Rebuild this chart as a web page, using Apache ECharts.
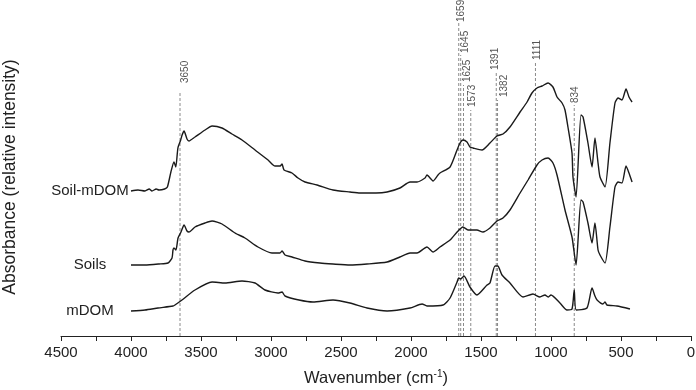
<!DOCTYPE html>
<html>
<head>
<meta charset="utf-8">
<script src="https://cdn.jsdelivr.net/npm/echarts@6/dist/echarts.min.js"></script>
<style>
  html, body { margin: 0; padding: 0; background: #fff; }
  #chart { width: 696px; height: 390px; }
</style>
</head>
<body>
<div id="chart"></div>
<script>
// spectra: [wavenumber, absorbance offset (a.u.)]
const soilMdom = [
  [4000, 1.45], [3950, 1.46], [3900, 1.45], [3870, 1.47], [3850, 1.45], [3820, 1.47], [3800, 1.46],
  [3760, 1.47], [3740, 1.49], [3715, 1.64], [3693, 1.74], [3680, 1.69], [3665, 1.88], [3645, 1.96],
  [3635, 2.01], [3621, 2.05], [3600, 1.97], [3586, 1.95], [3543, 1.99], [3471, 2.06], [3421, 2.10],
  [3350, 2.08], [3279, 2.02], [3207, 1.96], [3114, 1.86], [3021, 1.76], [2971, 1.70], [2935, 1.70],
  [2921, 1.72], [2907, 1.66], [2850, 1.63], [2807, 1.58], [2757, 1.54], [2671, 1.51], [2557, 1.46],
  [2436, 1.44], [2364, 1.43], [2250, 1.43], [2171, 1.44], [2079, 1.48], [2007, 1.54], [1957, 1.54],
  [1900, 1.58], [1886, 1.61], [1857, 1.57], [1843, 1.55], [1807, 1.61], [1793, 1.63], [1721, 1.69],
  [1671, 1.86], [1650, 1.93], [1629, 1.96], [1600, 1.94], [1579, 1.89], [1557, 1.88], [1493, 1.86],
  [1436, 1.93], [1386, 2.00], [1343, 2.02], [1293, 2.09], [1221, 2.24], [1171, 2.34], [1136, 2.43],
  [1100, 2.48], [1064, 2.50], [1021, 2.53], [986, 2.49], [957, 2.39], [921, 2.33], [900, 2.26],
  [879, 2.09], [850, 1.83], [843, 1.59], [821, 1.39], [786, 2.21], [771, 2.19], [736, 1.93],
  [707, 1.69], [686, 1.98], [664, 1.73], [650, 1.59], [614, 1.49], [579, 1.93], [543, 2.33],
  [521, 2.38], [493, 2.36], [464, 2.47], [443, 2.39], [421, 2.34]
];
const soils = [
  [4000, 0.71], [3900, 0.71], [3800, 0.72], [3736, 0.73], [3707, 0.78], [3700, 0.86], [3693, 0.88],
  [3679, 0.86], [3664, 0.98], [3643, 1.04], [3621, 1.11], [3600, 1.05], [3586, 1.04], [3543, 1.09],
  [3471, 1.13], [3421, 1.15], [3350, 1.12], [3257, 1.03], [3186, 0.98], [3093, 0.89], [2993, 0.83],
  [2936, 0.83], [2921, 0.85], [2900, 0.81], [2850, 0.79], [2757, 0.75], [2650, 0.73], [2557, 0.72],
  [2436, 0.71], [2314, 0.72], [2171, 0.74], [2079, 0.79], [2007, 0.83], [1957, 0.83], [1886, 0.89],
  [1843, 0.84], [1793, 0.89], [1721, 0.96], [1671, 1.04], [1629, 1.09], [1593, 1.06], [1529, 1.06],
  [1486, 1.04], [1436, 1.08], [1386, 1.15], [1343, 1.18], [1293, 1.26], [1221, 1.43], [1164, 1.56],
  [1100, 1.71], [1064, 1.76], [1021, 1.78], [986, 1.73], [957, 1.61], [900, 1.26], [850, 0.99],
  [821, 0.71], [786, 1.36], [771, 1.34], [736, 1.13], [707, 0.93], [686, 1.13], [664, 0.86],
  [650, 0.81], [614, 0.73], [579, 1.09], [543, 1.49], [521, 1.54], [493, 1.53], [464, 1.70],
  [443, 1.63], [421, 1.54]
];
const mDOM = [
  [4000, 0.25], [3900, 0.26], [3807, 0.28], [3700, 0.30], [3686, 0.31], [3636, 0.36], [3543, 0.46],
  [3421, 0.54], [3329, 0.53], [3207, 0.55], [3114, 0.53], [3043, 0.46], [2950, 0.43], [2921, 0.44],
  [2900, 0.40], [2800, 0.36], [2700, 0.34], [2557, 0.36], [2436, 0.33], [2314, 0.28], [2171, 0.25],
  [2007, 0.28], [1921, 0.32], [1886, 0.30], [1771, 0.31], [1721, 0.38], [1671, 0.54], [1660, 0.58],
  [1645, 0.57], [1621, 0.60], [1579, 0.49], [1529, 0.41], [1457, 0.51], [1436, 0.53], [1400, 0.70],
  [1380, 0.70], [1350, 0.61], [1293, 0.53], [1200, 0.39], [1129, 0.42], [1079, 0.39], [1043, 0.41],
  [1021, 0.39], [1000, 0.41], [936, 0.33], [886, 0.26], [850, 0.27], [834, 0.46], [820, 0.26],
  [743, 0.28], [707, 0.48], [686, 0.40], [671, 0.36], [629, 0.32], [614, 0.34], [600, 0.31],
  [529, 0.30], [436, 0.27]
];
const seriesNames = ["Soil-mDOM", "Soils", "mDOM"];
const xTicks = [4500, 4000, 3500, 3000, 2500, 2000, 1500, 1000, 500, 0];

// marked bands
const peakWavenumbers = [3650, 1659, 1645, 1625, 1573, 1391, 1382, 1111, 834];
const peakLineTops = [2.43, 3.13, 2.81, 2.51, 2.26, 2.64, 2.36, 2.73, 2.31];
// label placement (px): sideways shift, gap above line end
const peakLabelDx = [5, 3, 5, 3.5, 1, -1, 6.5, 2, 1];
const peakLabelLift = [10, 1, 2, 3, 3, 2, 3, 3, 2];

const FONT = "'Liberation Sans', Arial, sans-serif";
const chart = echarts.init(document.getElementById("chart"));

const spectra = [soilMdom, soils, mDOM];

const option = {
  animation: false,
  textStyle: { fontFamily: FONT },
  grid: { left: 61, right: 5, top: 18, bottom: 54, outerBoundsMode: "none", containLabel: false },
  xAxis: {
    type: "value",
    inverse: true,
    min: 0,
    max: 4500,
    interval: 500,
    name: "Wavenumber (cm{sup|-1})",
    nameLocation: "middle",
    nameGap: 33,
    nameTextStyle: {
      fontSize: 16.5,
      color: "#222",
      fontFamily: FONT,
      rich: { sup: { fontSize: 10, padding: [0, 0, 8, 0], color: "#222", fontFamily: FONT } }
    },
    axisLine: { lineStyle: { color: "#222", width: 1 } },
    axisTick: { length: 5, lineStyle: { color: "#222" } },
    minorTick: { show: true, splitNumber: 2, length: 5, lineStyle: { color: "#222" } },
    axisLabel: {
      fontSize: 15,
      color: "#222",
      margin: 9,
      fontFamily: FONT,
      formatter: (v) => (xTicks.includes(v) ? String(v) : "")
    },
    splitLine: { show: false }
  },
  yAxis: {
    type: "value",
    min: 0,
    max: 3.18,
    name: "Absorbance (relative intensity)",
    nameLocation: "middle",
    nameRotate: 90,
    nameGap: 42,
    nameTextStyle: { fontSize: 17.5, color: "#222", fontFamily: FONT },
    axisLine: { show: false },
    axisTick: { show: false },
    axisLabel: { show: false },
    splitLine: { show: false }
  },
  series: [
    ...spectra.map((d, i) => ({
      name: seriesNames[i],
      type: "line",
      data: d,
      showSymbol: false,
      silent: true,
      smooth: 0.2,
      lineStyle: { color: "#1a1a1a", width: 1.4 },
      z: 3
    })),
    {
      type: "custom",
      name: "bands",
      silent: true,
      z: 2,
      data: peakWavenumbers.map((w, i) => [w, peakLineTops[i], peakLabelDx[i], peakLabelLift[i]]),
      encode: { x: 0, y: 1 },
      renderItem: (params, api) => {
        const w = api.value(0);
        const p0 = api.coord([w, 0]);
        const p1 = api.coord([w, api.value(1)]);
        return {
          type: "group",
          children: [
            {
              type: "line",
              shape: { x1: p0[0], y1: p0[1], x2: p1[0], y2: p1[1] },
              style: { stroke: "#8a8a8a", lineWidth: 1, lineDash: [3, 2] }
            },
            {
              type: "text",
              x: p1[0] + api.value(2),
              y: p1[1] - api.value(3),
              rotation: Math.PI / 2,
              style: {
                text: String(w),
                fill: "#555",
                font: "10px " + FONT,
                align: "left",
                verticalAlign: "middle"
              }
            }
          ]
        };
      }
    },
    {
      type: "custom",
      name: "names",
      silent: true,
      data: spectra.map((d, i) => [d[0][0], d[0][1], i]),
      encode: { x: 0, y: 1 },
      renderItem: (params, api) => {
        const p = api.coord([api.value(0), api.value(1)]);
        return {
          type: "text",
          x: p[0] - 41,
          y: p[1],
          style: {
            text: seriesNames[api.value(2)],
            fill: "#222",
            font: "15px " + FONT,
            align: "center",
            verticalAlign: "middle"
          }
        };
      }
    }
  ]
};

chart.setOption(option);
</script>
</body>
</html>
